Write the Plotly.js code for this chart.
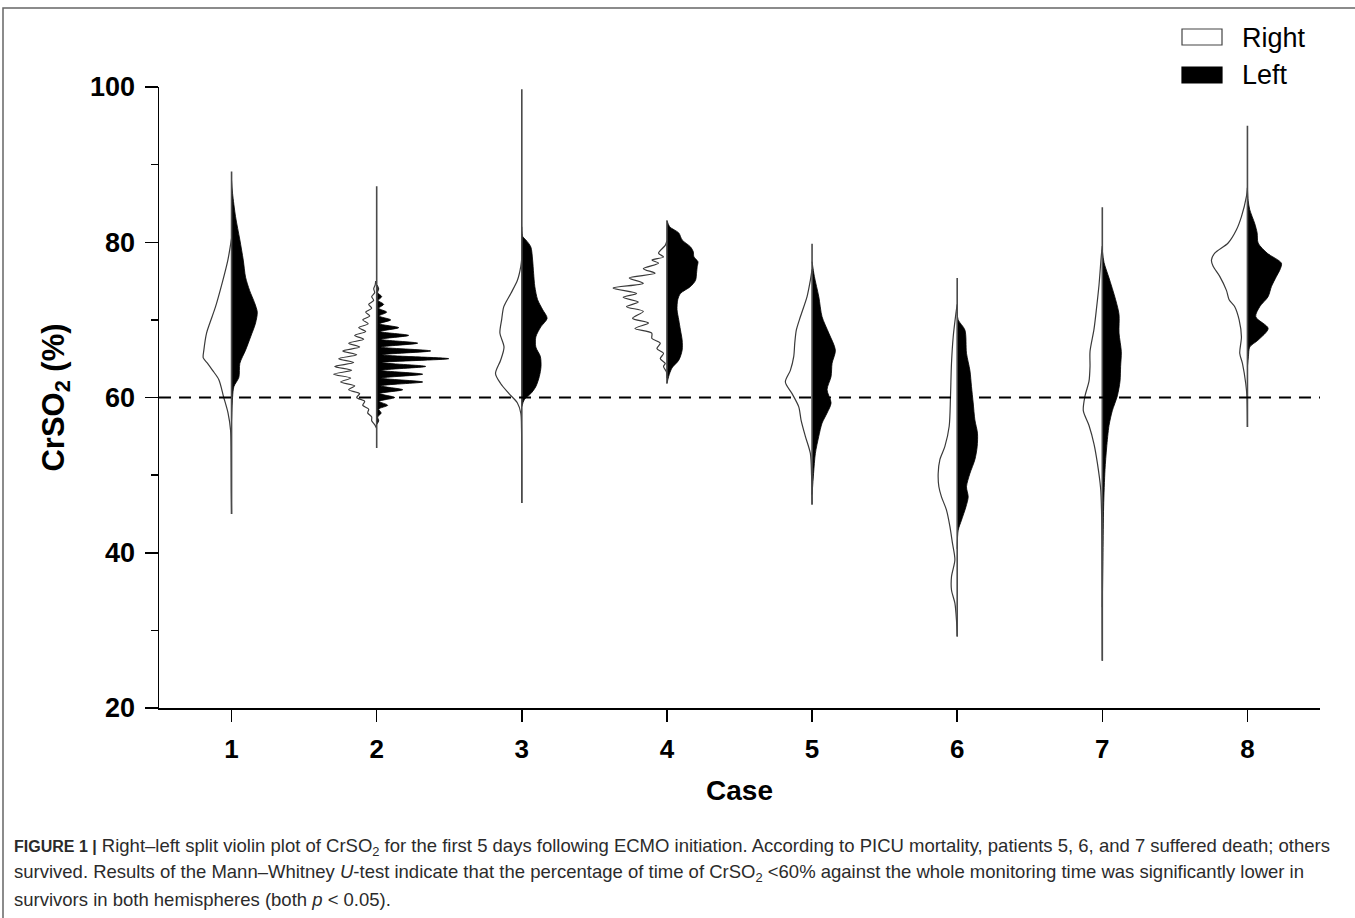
<!DOCTYPE html>
<html>
<head>
<meta charset="utf-8">
<script src="https://cdn.plot.ly/plotly-3.0.1.min.js"></script>
<style>
  html, body { margin: 0; padding: 0; background: #fff; }
  #chart { width: 1355px; height: 918px; }
</style>
</head>
<body>
<div id="chart"></div>
<script>
// ---------------- DATA ----------------
const cases = [1, 2, 3, 4, 5, 6, 7, 8];
const tickLabels = ['1', '2', '3', '4', '5', '6', '7', '8'];
const yTicks = [20, 40, 60, 80, 100];
const thresholdValue = 60;

// overall extent of each case's violin (thin tails)
const tailMin = [45.0, 53.5, 46.4, 61.8, 46.2, 29.2, 26.1, 56.2];
const tailMax = [89.1, 87.2, 99.7, 82.8, 79.8, 75.4, 84.5, 95.0];

// Density profiles: value (CrSO2 %) and relative density (half-width)
// "Right" hemisphere (white, drawn to the left of the centre)
const right1Val = [80.5, 77.7, 74.8, 71.7, 69.6, 68.3, 66.1, 65.1, 64.4, 63.5, 62.3, 60.1, 58.0, 55.8, 53.0, 48.0, 45.0];
const right1Den = [0, 3.7, 9.3, 16, 21.7, 25, 27.7, 28.3, 24, 19, 12.7, 8, 3.5, 1, 0.5, 0.3, 0];
const right2Val = [75, 74.5, 74, 73.5, 73, 72.5, 72, 71.5, 71, 70.5, 70, 69.5, 69, 68.5, 68, 67.5, 67, 66.5, 66, 65.5, 65, 64.5, 64, 63.5, 63, 62.5, 62, 61.5, 61, 60.5, 60, 59.5, 59, 58.5, 58, 57.5, 57, 56.5, 56];
const right2Den = [1, 1.5, 3, 2, 5, 3, 8, 5, 11, 7, 14, 8.5, 18, 11, 22, 13, 28, 17, 34, 20, 38, 23, 42, 25, 43, 26, 36, 22, 28, 17, 20, 12, 14, 8, 9, 5, 5, 2, 0];
const right3Val = [78.0, 76.9, 75.1, 73.4, 71.7, 70.0, 68.3, 66.5, 64.8, 63.1, 61.8, 60.5, 59.3, 58.0, 56.0, 46.4];
const right3Den = [0, 1, 4.4, 11, 18, 20.2, 21.9, 17.8, 21.2, 26.3, 21.2, 12.8, 4.4, 1, 0.3, 0];
const right4Val = [80.2, 79.6, 78.6, 78.1, 77.7, 77.3, 76.6, 76.0, 75.4, 74.7, 74.1, 73.4, 72.9, 72.3, 71.7, 71.1, 70.2, 69.6, 68.9, 68.3, 67.6, 67.0, 66.3, 65.7, 65.0, 64.4, 64.0, 63.3, 62.5];
const right4Den = [0, 1.7, 8.4, 3.4, 15, 8.4, 23.6, 11.8, 37.7, 23.6, 53.9, 30.3, 43.8, 28.6, 40.4, 23.6, 34.3, 18.5, 32, 15.2, 15, 6.7, 10, 3.4, 6.7, 1.7, 3.4, 0.5, 0];
const right5Val = [76.5, 75.1, 73.0, 70.4, 68.7, 67.0, 65.3, 63.5, 62.0, 60.5, 58.8, 57.1, 55.0, 52.8, 50.0, 46.2];
const right5Den = [0, 1.7, 5, 11.7, 15.7, 17.3, 18.3, 21.7, 26.7, 20, 13.3, 11, 6.7, 1.7, 0.5, 0];
const right6Val = [72.0, 70.8, 67.8, 64.4, 60.1, 56.3, 53.7, 52.0, 50.2, 48.5, 47.2, 45.5, 43.4, 41.2, 39.1, 36.9, 35.2, 33.5, 31.3, 29.2];
const right6Den = [0, 1.3, 4, 5.7, 6.7, 8, 12.3, 17.3, 19, 18.3, 15.7, 10.7, 7.3, 4.7, 2.3, 5.7, 5.7, 2.3, 0.7, 0];
const right7Val = [79.5, 78.3, 74.5, 71.6, 68.8, 65.9, 64.0, 62.1, 60.2, 58.3, 56.4, 54.0, 51.6, 48.3, 44.9, 35.0, 26.1];
const right7Den = [0, 1, 3.3, 5.7, 8.3, 12.3, 12.3, 13.3, 17.3, 19, 13.3, 8.3, 5, 1.7, 0.7, 0.3, 0];
const right8Val = [87.0, 85.9, 83.3, 81.6, 79.9, 78.6, 77.7, 76.9, 75.6, 73.8, 72.6, 71.7, 70.0, 67.8, 65.7, 64.4, 61.8, 60.1, 56.2];
const right8Den = [0, 1, 6, 11, 19.3, 32.7, 36, 34.3, 27.7, 21, 18.3, 12.7, 8.3, 6, 7.7, 5, 1.7, 0.5, 0];

// "Left" hemisphere (black, drawn to the right of the centre)
const left1Val = [88.0, 86.3, 83.3, 80.3, 77.7, 75.5, 73.8, 72.2, 71.0, 69.6, 67.8, 66.1, 64.4, 62.6, 61.4, 60.0, 57.0];
const left1Den = [0, 1, 4, 8.3, 11.7, 14, 18, 23, 25.7, 24, 19, 14, 8.3, 7.3, 2.3, 1, 0];
const left2Val = [74.5, 74, 73.5, 73, 72.5, 72, 71.5, 71, 70.5, 70, 69.5, 69, 68.5, 68, 67.5, 67, 66.5, 66, 65.5, 65, 64.5, 64, 63.5, 63, 62.5, 62, 61.5, 61, 60.5, 60, 59.5, 59, 58.5, 58, 57.5, 57, 56.5];
const left2Den = [0.5, 2, 1, 5, 1.5, 7, 2, 10, 2.5, 14, 3, 22, 3.5, 32, 4, 41, 4, 54, 5, 72, 5, 49, 4.5, 46, 4.5, 46, 4, 26, 3, 18, 2.5, 11, 2, 4.5, 1, 2, 0];
const left3Val = [82.0, 80.7, 80.3, 79.4, 77.7, 76.0, 74.3, 72.6, 71.3, 70.2, 69.1, 67.8, 66.5, 65.3, 64.0, 62.7, 61.4, 60.5, 59.7, 58.8];
const left3Den = [0, 1, 4, 9, 10.8, 11.8, 13, 15.8, 20.9, 25.3, 19, 14, 14, 18.5, 19.2, 17.5, 14, 9, 2.4, 0];
const left4Val = [82.8, 82.0, 81.2, 80.3, 79.4, 78.8, 78.1, 77.5, 76.9, 76.0, 75.1, 74.3, 73.4, 72.6, 71.3, 70.0, 68.7, 67.4, 66.1, 64.8, 63.8, 62.7, 61.8];
const left4Den = [0, 2.7, 11.8, 15.2, 23.6, 26.3, 27, 31, 30.3, 29.6, 28.6, 23.6, 13.5, 10.8, 10.1, 11.8, 13.5, 15.2, 15.2, 11.8, 5, 1.7, 0];
const left5Val = [77.5, 75.6, 73.0, 70.4, 68.3, 66.1, 64.4, 62.7, 61.0, 59.3, 58.0, 56.7, 55.0, 52.8, 50.2, 47.5];
const left5Den = [0, 2.3, 6.7, 10, 16.7, 23.3, 20, 19, 15, 19, 15, 10, 6.7, 3.3, 1.5, 0];
const left6Val = [71.0, 70.0, 68.7, 65.7, 63.5, 61.4, 59.3, 57.1, 55.4, 53.7, 52.0, 50.2, 48.5, 47.2, 45.9, 44.2, 42.9, 40.5];
const left6Den = [0, 1, 7.7, 9.3, 12.7, 14.3, 16, 17.7, 20.3, 20, 17.7, 12.7, 9.3, 11, 8.7, 4.3, 1, 0];
const left7Val = [79.0, 77.4, 75.4, 72.6, 70.7, 68.3, 65.9, 64.0, 62.1, 60.2, 58.3, 56.4, 53.5, 50.7, 45.9, 40.0, 33.0];
const left7Den = [0, 1.7, 6.7, 13.3, 16.7, 16.7, 19, 18.3, 17.7, 15, 10, 6.7, 4.3, 2.7, 1.3, 0.7, 0];
const left8Val = [87.0, 85.4, 84.2, 82.4, 81.2, 79.9, 78.6, 77.3, 76.4, 75.6, 74.3, 73.0, 71.7, 70.4, 68.9, 67.4, 66.5, 65.3, 64.0];
const left8Den = [0, 0.7, 2.3, 7.3, 9.7, 10.7, 19.7, 34, 32.3, 29, 24, 20.7, 12.3, 8.3, 20.7, 10.7, 2.3, 1, 0];

const rightVals = [right1Val, right2Val, right3Val, right4Val, right5Val, right6Val, right7Val, right8Val];
const rightDens = [right1Den, right2Den, right3Den, right4Den, right5Den, right6Den, right7Den, right8Den];
const leftVals = [left1Val, left2Val, left3Val, left4Val, left5Val, left6Val, left7Val, left8Val];
const leftDens = [left1Den, left2Den, left3Den, left4Den, left5Den, left6Den, left7Den, left8Den];

// ---------------- STYLE ----------------
const DENSITY_TO_X = 1 / 145.1;   // converts density units to x-axis half-width
const FONT = 'Liberation Sans, Arial, Helvetica, sans-serif';

const traces = [];
cases.forEach((c, i) => {
  // white ("Right") half, to the left of the centre
  traces.push({
    type: 'scatter', mode: 'lines', name: 'Right', showlegend: false,
    x: rightDens[i].map(d => c - d * DENSITY_TO_X),
    y: rightVals[i],
    fill: 'toself', fillcolor: '#ffffff',
    line: { color: '#3a3a3a', width: 1.2, shape: 'spline', smoothing: 0.8 },
    hoverinfo: 'skip'
  });
  // black ("Left") half, to the right of the centre
  traces.push({
    type: 'scatter', mode: 'lines', name: 'Left', showlegend: false,
    x: leftDens[i].map(d => c + d * DENSITY_TO_X),
    y: leftVals[i],
    fill: 'toself', fillcolor: '#000000',
    line: { color: '#000000', width: 0.8, shape: 'spline', smoothing: 0.8 },
    hoverinfo: 'skip'
  });
});
// centre lines (thin tails)
const cx = [], cy = [];
cases.forEach((c, i) => { cx.push(c, c, null); cy.push(tailMin[i], tailMax[i], null); });
traces.push({
  type: 'scatter', mode: 'lines', showlegend: false, x: cx, y: cy,
  line: { color: '#4a4a4a', width: 1.6 }, hoverinfo: 'skip'
});

// plot area in pixels: x 159..1320, y 87..708
const L = 159, R = 1320, T = 87, B = 708;
const px = v => (v - L) / (R - L);
const py = v => (B - v) / (B - T);

const shapes = [
  // dashed 60% threshold
  { type: 'line', xref: 'paper', x0: 0, x1: 1, yref: 'y', y0: thresholdValue, y1: thresholdValue,
    line: { color: '#000', width: 2, dash: '12px,8px' }, layer: 'above' },
  // outer figure frame
  { type: 'rect', xref: 'paper', yref: 'paper', x0: px(3), x1: px(1365), y0: py(930), y1: py(8),
    line: { color: '#666', width: 1.5 }, fillcolor: 'rgba(0,0,0,0)' },
  // legend boxes
  { type: 'rect', xref: 'paper', yref: 'paper', x0: px(1182), x1: px(1222), y0: py(45), y1: py(29),
    line: { color: '#444', width: 1.2 }, fillcolor: '#fff' },
  { type: 'rect', xref: 'paper', yref: 'paper', x0: px(1182), x1: px(1222), y0: py(83), y1: py(67),
    line: { color: '#000', width: 1.2 }, fillcolor: '#000' }
];

const capFont = { family: FONT, size: 18.5, color: '#2b2b2b' };
const annotations = [
  { xref: 'paper', yref: 'paper', x: px(1240), y: py(38), xanchor: 'left', yanchor: 'middle',
    text: 'Right', showarrow: false, font: { family: FONT, size: 27, color: '#000' } },
  { xref: 'paper', yref: 'paper', x: px(1240), y: py(75), xanchor: 'left', yanchor: 'middle',
    text: 'Left', showarrow: false, font: { family: FONT, size: 27, color: '#000' } },
  { xref: 'paper', yref: 'paper', x: px(12), y: py(847), xanchor: 'left', yanchor: 'middle', showarrow: false, font: capFont,
    text: '<span style="font-size:16px"><b>FIGURE 1 |</b></span> Right–left split violin plot of CrSO<sub>2</sub> for the first 5 days following ECMO initiation. According to PICU mortality, patients 5, 6, and 7 suffered death; others' },
  { xref: 'paper', yref: 'paper', x: px(12), y: py(873), xanchor: 'left', yanchor: 'middle', showarrow: false, font: capFont,
    text: 'survived. Results of the Mann–Whitney <i>U</i>-test indicate that the percentage of time of CrSO<sub>2</sub> &lt;60% against the whole monitoring time was significantly lower in' },
  { xref: 'paper', yref: 'paper', x: px(12), y: py(899), xanchor: 'left', yanchor: 'middle', showarrow: false, font: capFont,
    text: 'survivors in both hemispheres (both <i>p</i> &lt; 0.05).' }
];

const layout = {
  width: 1355, height: 918,
  margin: { l: L, r: 1355 - R, t: T, b: 918 - B, pad: 0 },
  paper_bgcolor: '#fff', plot_bgcolor: '#fff',
  showlegend: false, hovermode: false,
  font: { family: FONT, color: '#000' },
  xaxis: {
    range: [0.5, 8.5], tickvals: cases, ticktext: tickLabels,
    showgrid: false, zeroline: false, showline: true, linecolor: '#000', linewidth: 1.5,
    ticks: 'outside', ticklen: 12, tickwidth: 1.5, tickcolor: '#000',
    ticklabelstandoff: 5,
    tickfont: { family: FONT, size: 26, weight: 700, color: '#000' },
    title: { text: 'Case', font: { family: FONT, size: 28, weight: 700, color: '#000' }, standoff: 17 },
    automargin: false, fixedrange: true
  },
  yaxis: {
    range: [20, 100], tickvals: yTicks, ticktext: yTicks.map(String),
    showgrid: false, zeroline: false, showline: true, linecolor: '#000', linewidth: 1.5,
    ticks: 'outside', ticklen: 13, tickwidth: 1.5, tickcolor: '#000',
    ticklabelstandoff: 4,
    minor: { dtick: 10, tick0: 20, ticks: 'outside', ticklen: 7, tickwidth: 1.5, tickcolor: '#000', showgrid: false },
    tickfont: { family: FONT, size: 27, weight: 700, color: '#000' },
    title: { text: 'CrSO<sub>2</sub> (%)', font: { family: FONT, size: 31, weight: 700, color: '#000' }, standoff: 16 },
    automargin: false, fixedrange: true
  },
  shapes: shapes,
  annotations: annotations
};

Plotly.newPlot('chart', traces, layout, { displayModeBar: false, staticPlot: true });
</script>
</body>
</html>
